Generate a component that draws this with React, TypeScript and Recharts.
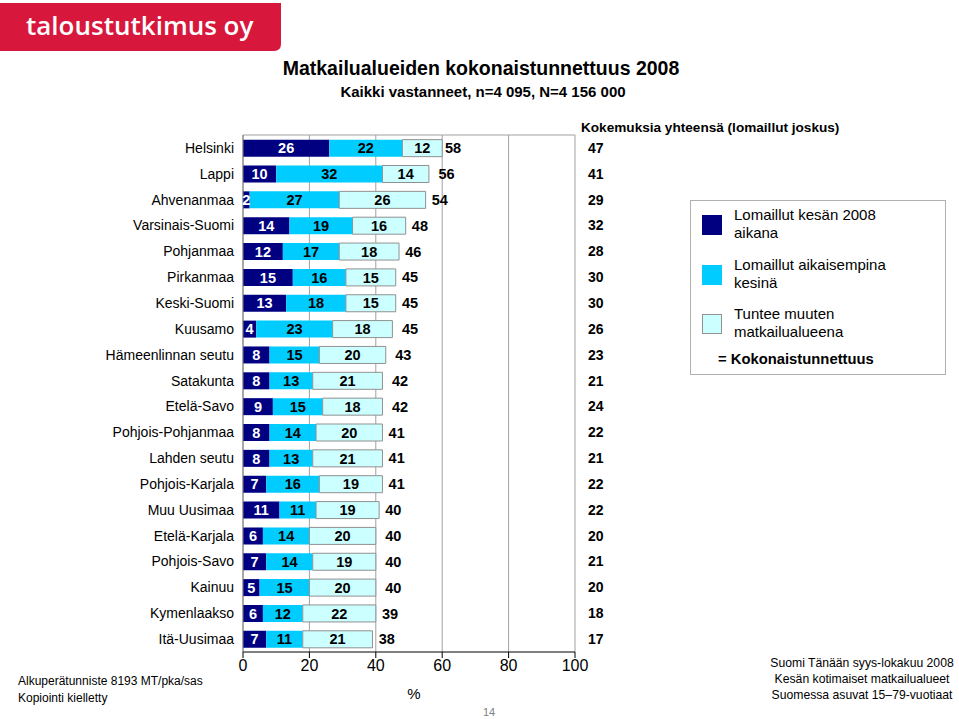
import React from 'react';
import { BarChart, Bar, XAxis, YAxis, CartesianGrid, LabelList } from 'recharts';

// Matkailualueet (ylhäältä alas)
const regions = [
  'Helsinki', 'Lappi', 'Ahvenanmaa', 'Varsinais-Suomi', 'Pohjanmaa', 'Pirkanmaa',
  'Keski-Suomi', 'Kuusamo', 'Hämeenlinnan seutu', 'Satakunta', 'Etelä-Savo',
  'Pohjois-Pohjanmaa', 'Lahden seutu', 'Pohjois-Karjala', 'Muu Uusimaa',
  'Etelä-Karjala', 'Pohjois-Savo', 'Kainuu', 'Kymenlaakso', 'Itä-Uusimaa',
];
const kesa2008 = [26, 10, 2, 14, 12, 15, 13, 4, 8, 8, 9, 8, 8, 7, 11, 6, 7, 5, 6, 7];
const aiemmin = [22, 32, 27, 19, 17, 16, 18, 23, 15, 13, 15, 14, 13, 16, 11, 14, 14, 15, 12, 11];
const tuntee = [12, 14, 26, 16, 18, 15, 15, 18, 20, 21, 18, 20, 21, 19, 19, 20, 19, 20, 22, 21];
const tunnettuus = [58, 56, 54, 48, 46, 45, 45, 45, 43, 42, 42, 41, 41, 41, 40, 40, 40, 40, 39, 38];
const kokemuksia = [47, 41, 29, 32, 28, 30, 30, 26, 23, 21, 24, 22, 21, 22, 22, 20, 21, 20, 18, 17];
const xTicks = [0, 20, 40, 60, 80, 100];

const COLORS = ['#000080', '#00CCFF', '#CCFFFF'];
const SERIES = [
  ['Lomaillut kesän 2008', 'aikana'],
  ['Lomaillut aikaisempina', 'kesinä'],
  ['Tuntee muuten', 'matkailualueena'],
];

const data = regions.map((name, i) => ({
  name,
  kesa: kesa2008[i],
  aiemmin: aiemmin[i],
  tuntee: tuntee[i],
  total: tunnettuus[i],
}));

const FONT = '"Liberation Sans", Arial, sans-serif';
const abs = (left: number, top: number): React.CSSProperties => ({ position: 'absolute', left, top });

const labelStyle = { fontSize: 14.5, fontWeight: 'bold' as const, fontFamily: FONT };

// kokonaistunnettuus piirretään arvonsa kohdalle (ei pylvään päähän, pyöristyserot)
const TotalLabel = (props: any) => {
  const { x, y, width, height, index } = props;
  const i = index as number;
  const sum = kesa2008[i] + aiemmin[i] + tuntee[i];
  const perUnit = width / tuntee[i];
  const px = x + width + (tunnettuus[i] - sum) * perUnit + 9.5;
  return (
    <text x={px} y={y + height / 2} dy="0.35em" fill="#000" style={labelStyle}>
      {tunnettuus[i]}
    </text>
  );
};

const App: React.FC = () => {
  return (
    <div style={{ position: 'absolute', left: 0, top: 0, width: 959, height: 719, background: '#fff', fontFamily: FONT, overflow: 'hidden' }}>
      {/* logo */}
      <svg style={abs(0, 0)} width={290} height={56}>
        <path d="M0 3 H281 V44 Q281 51 274 51 H0 Z" fill="#D8173C" />
        <text x={26} y={35} fill="#fff" fontSize={26} fontWeight={600} fontFamily='"Open Sans", sans-serif'>
          taloustutkimus oy
        </text>
      </svg>

      <div style={{ ...abs(0, 57), width: 962, textAlign: 'center', fontSize: 19.5, fontWeight: 'bold' }}>
        Matkailualueiden kokonaistunnettuus 2008
      </div>
      <div style={{ ...abs(0, 83), width: 966, textAlign: 'center', fontSize: 15, fontWeight: 'bold' }}>
        Kaikki vastanneet, n=4 095, N=4 156 000
      </div>

      <div style={{ ...abs(581, 120), fontSize: 13.6, fontWeight: 'bold', whiteSpace: 'nowrap' }}>
        Kokemuksia yhteensä (lomaillut joskus)
      </div>

      <div style={abs(0, 0)}>
        <BarChart
          width={959}
          height={719}
          data={data}
          layout="vertical"
          barCategoryGap="18%"
          margin={{ top: 135, right: 324, left: 0, bottom: 20 }}
        >
          <CartesianGrid
            stroke="#a0a0a0"
            horizontalCoordinatesGenerator={({ offset }: any) => [offset.top]}
          />
          <XAxis
            type="number"
            domain={[0, 100]}
            ticks={xTicks}
            height={47}
            stroke="#000"
            tick={{ fill: '#000', fontSize: 16, fontFamily: FONT }}
            label={{ value: '%', position: 'insideBottom', offset: 0, dx: 5, fill: '#000', fontSize: 15 }}
          />
          <YAxis
            type="category"
            dataKey="name"
            width={243}
            stroke="#808080"
            tickLine={false}
            tickSize={0}
            tickMargin={9}
            interval={0}
            tick={{ fill: '#000', fontSize: 14, fontFamily: FONT }}
          />
          <YAxis
            yAxisId="right"
            orientation="right"
            type="category"
            dataKey="name"
            width={60}
            axisLine={false}
            tickLine={false}
            tickSize={0}
            tickMargin={13}
            interval={0}
            tickFormatter={(_v: string, i: number) => String(kokemuksia[i])}
            tick={{ fill: '#000', fontSize: 14, fontWeight: 'bold', fontFamily: FONT }}
          />
          <Bar dataKey="kesa" stackId="a" fill={COLORS[0]} isAnimationActive={false}>
            <LabelList dataKey="kesa" position="center" fill="#fff" style={labelStyle} />
          </Bar>
          <Bar dataKey="aiemmin" stackId="a" fill={COLORS[1]} isAnimationActive={false}>
            <LabelList dataKey="aiemmin" position="center" fill="#000" style={labelStyle} />
          </Bar>
          <Bar dataKey="tuntee" stackId="a" fill={COLORS[2]} stroke="#909090" isAnimationActive={false}>
            <LabelList dataKey="tuntee" position="center" fill="#000" style={labelStyle} />
            <LabelList dataKey="total" content={TotalLabel} />
          </Bar>
        </BarChart>
      </div>

      {/* selite */}
      <div style={{ ...abs(690, 200), width: 256, height: 175, border: '1px solid #b0b0b0', boxSizing: 'border-box' }} />
      {SERIES.map((lines, i) => (
        <React.Fragment key={i}>
          <div
            style={{
              ...abs(702, 215 + i * 49.5),
              width: 20,
              height: 20,
              background: COLORS[i],
              border: i === 2 ? '1px solid #909090' : 'none',
              boxSizing: 'border-box',
            }}
          />
          <div style={{ ...abs(734, 206 + i * 49.5), fontSize: 15, lineHeight: '18px', color: '#000' }}>
            {lines[0]}
            <br />
            {lines[1]}
          </div>
        </React.Fragment>
      ))}
      <div style={{ ...abs(718, 351), fontSize: 14.8, fontWeight: 'bold' }}>= Kokonaistunnettuus</div>

      {/* alatunnisteet */}
      <div style={{ ...abs(18, 673), fontSize: 12, lineHeight: '17px' }}>
        Alkuperätunniste 8193 MT/pka/sas
        <br />
        Kopiointi kielletty
      </div>
      <div style={{ ...abs(483, 706), fontSize: 11, color: '#808080' }}>14</div>
      <div style={{ ...abs(762, 655), width: 200, textAlign: 'center', fontSize: 12.2, lineHeight: '16px' }}>
        Suomi Tänään syys-lokakuu 2008
        <br />
        Kesän kotimaiset matkailualueet
        <br />
        Suomessa asuvat 15–79-vuotiaat
      </div>
    </div>
  );
};

export default App;
